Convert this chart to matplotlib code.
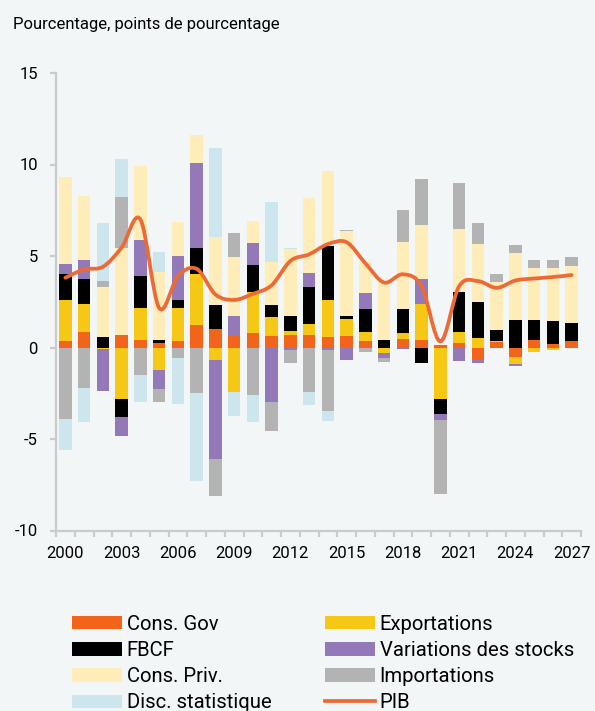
import numpy as np
import matplotlib
matplotlib.use("Agg")
import matplotlib.pyplot as plt
from matplotlib.path import Path
from matplotlib.patches import PathPatch, Patch
from matplotlib.lines import Line2D

plt.rcParams['font.family'] = ['Roboto', 'DejaVu Sans']
plt.rcParams['axes.unicode_minus'] = False

years = list(range(2000, 2028))

gov = [0.33, 0.84, 0.0, 0.70, 0.40, 0.24, 0.33, 1.21, 0.99, 0.70,
       0.77, 0.62, 0.70, 0.70, 0.55, 0.62, 0.33, 0.0, 0.48, 0.40,
       0.15, 0.24, -0.65, 0.30, -0.51, 0.40, 0.18, 0.33]
exports = [2.27, 1.54, -0.10, -2.84, 1.76, -1.24, 1.83, 2.78, -0.70, -2.42,
           2.27, 1.03, 0.22, 0.58, 2.05, 0.96, 0.51, -0.30, 0.29, 1.98,
           -2.84, 0.60, 0.50, 0.05, -0.37, -0.22, -0.15, -0.05]
fbcf = [1.40, 1.39, 0.55, -0.95, 1.76, 0.16, 0.44, 1.47, 1.32, 0.0,
        1.46, 0.66, 0.78, 2.05, 2.93, 0.14, 1.25, 0.40, 1.32, -0.86,
        -0.79, 2.20, 1.96, 0.60, 1.50, 1.10, 1.25, 1.03]
stocks = [0.58, 0.99, -2.25, -1.06, 1.96, -1.04, 2.42, 4.61, -5.40, 1.00,
          1.23, -2.98, -0.13, 0.74, -0.13, -0.70, 0.88, -0.25, -0.10, 1.39,
          -0.35, -0.73, -0.22, 0.0, -0.12, 0.0, 0.0, 0.0]
priv = [4.76, 3.53, 2.78, 4.76, 4.05, 3.74, 1.83, 1.53, 3.73, 3.25,
        1.19, 2.34, 3.68, 4.10, 4.10, 4.62, 1.76, 3.26, 3.66, 2.93,
        0.0, 3.44, 3.22, 2.63, 3.66, 2.86, 2.93, 3.07]
imports = [-3.90, -2.20, 0.30, 2.78, -1.50, -0.70, -0.59, -2.50, -2.00, 1.31,
           -2.60, -1.56, -0.70, -2.42, -3.33, 0.09, -0.25, -0.22, 1.76, 2.51,
           -4.03, 2.49, 1.10, 0.44, 0.44, 0.44, 0.44, 0.52]
disc = [-1.70, -1.85, 3.15, 2.05, -1.47, 1.10, -2.50, -4.77, 4.84, -1.34,
        -1.47, 3.30, 0.07, -0.73, -0.53, 0.0, 0.0, 0.0, 0.0, 0.0,
        0.0, 0.0, 0.0, 0.0, 0.0, 0.0, 0.0, 0.0]
pib = [3.81, 4.27, 4.41, 5.46, 7.00, 2.16, 3.90, 4.30, 2.90, 2.60,
       2.93, 3.40, 4.73, 5.09, 5.65, 5.75, 4.60, 3.55, 4.00, 3.35,
       0.33, 3.35, 3.63, 3.26, 3.66, 3.77, 3.85, 3.96]

series = [
    ("Cons. Gov", gov, "#f26419"),
    ("Exportations", exports, "#f7c716"),
    ("FBCF", fbcf, "#000000"),
    ("Variations des stocks", stocks, "#9479b8"),
    ("Cons. Priv.", priv, "#feecb9"),
    ("Importations", imports, "#b3b3b3"),
    ("Disc. statistique", disc, "#cde5ec"),
]
pib_color = "#ee6a35"
bg = "#f2f6f7"
axis_gray = "#cbcbcb"

W, H = 595, 711
fig = plt.figure(figsize=(W / 100, H / 100), dpi=100, facecolor=bg)
ax = fig.add_axes([56 / W, 1 - 530.5 / H, 525 / W, (530.5 - 73) / H])
ax.set_facecolor(bg)

n = len(years)
x = np.arange(n)
pos_b = np.zeros(n)
neg_b = np.zeros(n)
handles = {}
for label, vals, color in series:
    v = np.array(vals, dtype=float)
    bottom = np.where(v >= 0, pos_b, neg_b)
    ax.bar(x, v, 0.67, bottom=bottom, color=color, linewidth=0, zorder=2)
    pos_b += np.clip(v, 0, None)
    neg_b += np.clip(v, None, 0)
    handles[label] = Patch(facecolor=color, edgecolor='none')

# smoothed PIB line (Catmull-Rom -> cubic Bezier through data points)
pts = np.column_stack([x, np.array(pib, dtype=float)])
verts = [pts[0]]
codes = [Path.MOVETO]
for i in range(n - 1):
    p0 = pts[i - 1] if i > 0 else pts[i]
    p1 = pts[i]
    p2 = pts[i + 1]
    p3 = pts[i + 2] if i + 2 < n else pts[i + 1]
    c1 = p1 + (p2 - p0) / 6.0
    c2 = p2 - (p3 - p1) / 6.0
    verts += [c1, c2, p2]
    codes += [Path.CURVE4] * 3
ax.add_patch(PathPatch(Path(verts, codes), fill=False, edgecolor=pib_color,
                       lw=2.7, capstyle='round', joinstyle='round', zorder=5))
handles["PIB"] = Line2D([], [], color=pib_color, lw=2.7)

ax.set_xlim(-0.5, n - 0.5)
ax.set_ylim(-10, 15)
ax.set_yticks([-10, -5, 0, 5, 10, 15])
ax.set_yticklabels(["-10", "-5", "0", "5", "10", "15"])
ax.set_xticks(x[::3])
ax.set_xticklabels([str(y) for y in years[::3]])
ax.set_xticks(np.arange(n + 1) - 0.5, minor=True)

for s in ["top", "right"]:
    ax.spines[s].set_visible(False)
for s in ["left", "bottom"]:
    ax.spines[s].set_color(axis_gray)
    ax.spines[s].set_linewidth(1.6)

ax.tick_params(axis='y', which='major', length=4.5, width=1.6, color=axis_gray,
               labelsize=12, pad=8.5, labelcolor='black')
ax.tick_params(axis='x', which='major', length=0, labelsize=12, pad=11,
               labelcolor='black')
ax.tick_params(axis='x', which='minor', length=4.5, width=1.6, color=axis_gray)

fig.text(13 / W, 1 - 25 / H, "Pourcentage, points de pourcentage",
         ha='left', va='center', fontsize=12)

col1 = ["Cons. Gov", "FBCF", "Cons. Priv.", "Disc. statistique"]
col2 = ["Exportations", "Variations des stocks", "Importations", "PIB"]
for labels, xpos in [(col1, 72), (col2, 325)]:
    fig.legend([handles[l] for l in labels], labels, loc='upper left',
               bbox_to_anchor=(xpos / W, 1 - 615 / H), bbox_transform=fig.transFigure,
               frameon=False, fontsize=14.6, borderpad=0, borderaxespad=0,
               handlelength=2.45, handleheight=0.62, handletextpad=0.25,
               labelspacing=0.35)

fig.savefig("out.png", dpi=100, facecolor=bg)
